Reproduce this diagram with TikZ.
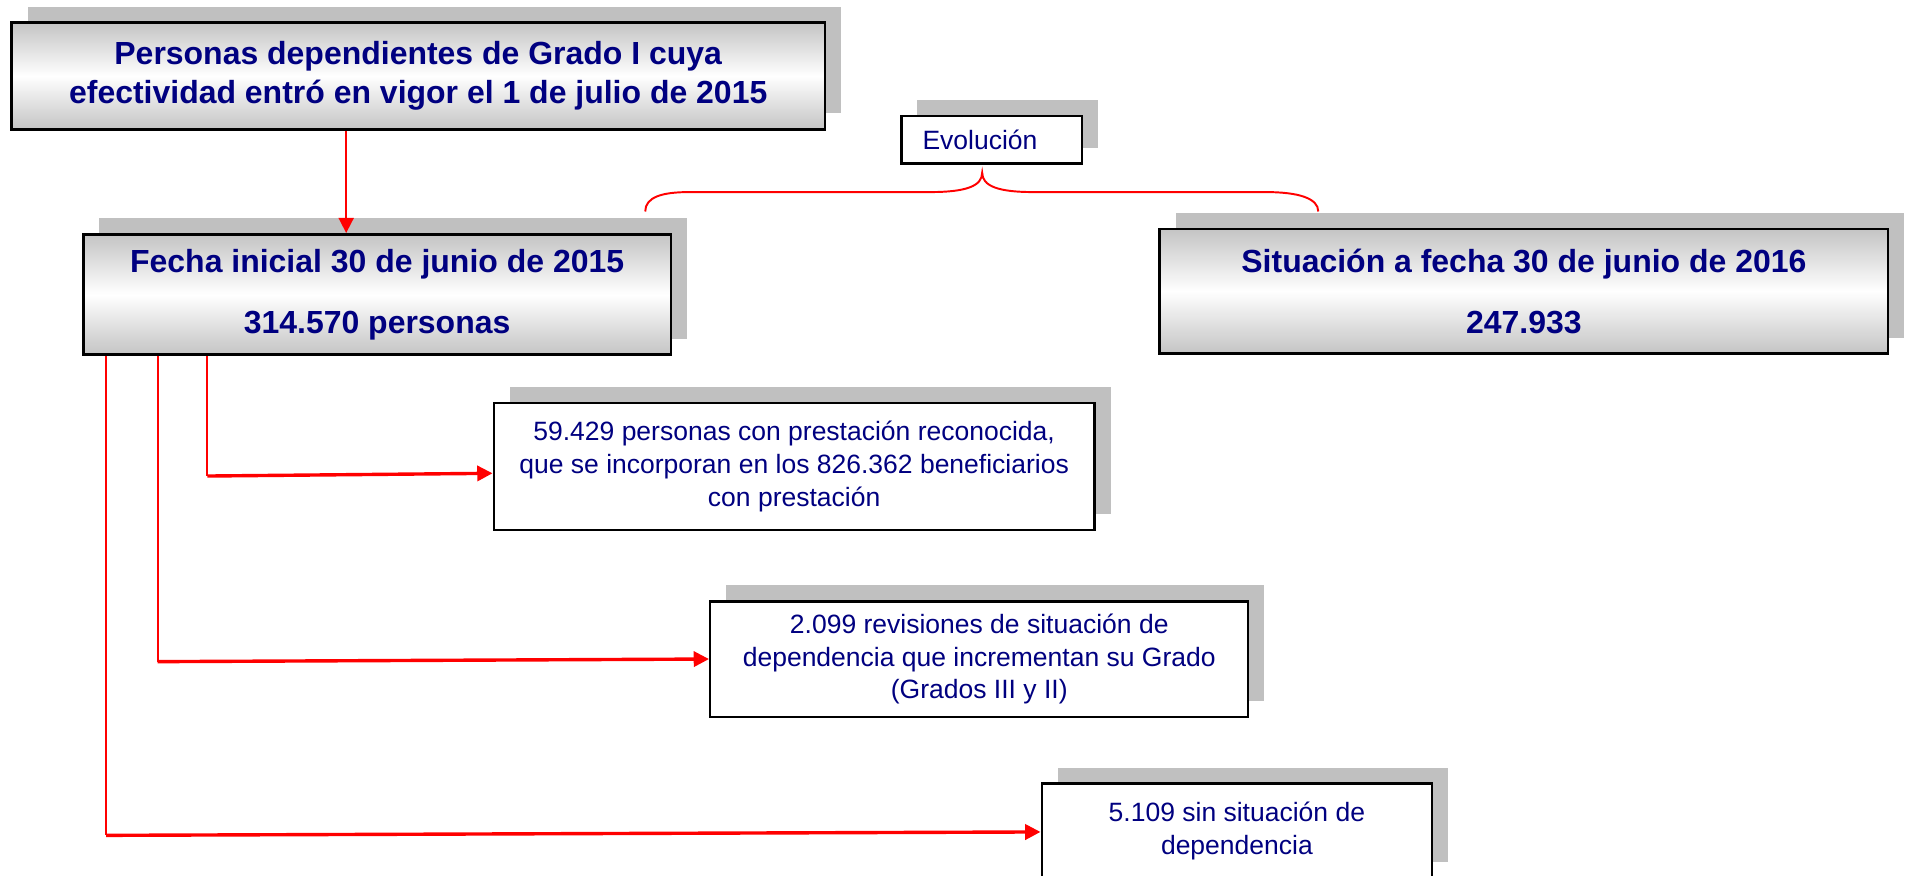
\documentclass[tikz,border=0pt]{standalone}
\usepackage{fontspec}
\setmainfont{Liberation Sans}
\usetikzlibrary{arrows.meta,shadows,calc}
\definecolor{navytxt}{RGB}{0,0,128}
\definecolor{shgray}{RGB}{192,192,192}
\definecolor{gshade}{RGB}{196,196,196}
\definecolor{linered}{RGB}{255,0,0}
\tikzset{
  boxshadow/.style={general shadow={fill=shgray, shadow xshift=6.6pt, shadow yshift=6.6pt}},
  bigbox/.style={draw=black, line width=1.1pt, top color=gshade, bottom color=gshade, middle color=white,
    text=navytxt, font=\bfseries\fontsize{13.15}{15.85}\selectfont, align=center, inner sep=0pt, boxshadow},
  smallbox/.style={draw=black, line width=1pt, fill=white, text=navytxt,
    font=\fontsize{10.9}{13.5}\selectfont, align=center, inner sep=0pt, boxshadow},
  thinred/.style={draw=linered, line width=0.95pt},
  redarrow/.style={draw=linered, line width=1.4pt, -{Triangle[length=6.3pt,width=6.2pt]}},
  toparrow/.style={draw=linered, line width=0.95pt, -{Triangle[length=6.2pt,width=6.1pt]}},
  bracestyle/.style={draw=linered, line width=0.8pt}
}
\begin{document}
\begin{tikzpicture}[x=0.5pt,y=-0.5pt]
\useasboundingbox (0,0) rectangle (1568,720);
% boxes
\node[bigbox, minimum width=334.55pt, minimum height=43.9pt] (top) at (344.05,62.5)
  {Personas dependientes de Grado I cuya\\efectividad entró en vigor el 1 de julio de 2015};
\node[bigbox, minimum width=241.75pt, minimum height=49.5pt] (fecha) at (310.25,242.3)
  {Fecha inicial 30 de junio de 2015\\[9.15pt]314.570 personas};
\node[bigbox, minimum width=299.55pt, minimum height=51.25pt] (sit) at (1253.65,239.6)
  {Situación a fecha 30 de junio de 2016\\[9.15pt]247.933};
\node[smallbox, align=left, text width=57pt, inner xsep=8.7pt, minimum height=19.7pt] (evo) at (815.9,114.9)
  {Evolución};
\node[smallbox, minimum width=247.1pt, minimum height=52.35pt] (b1) at (653.3,383.65)
  {59.429 personas con prestación reconocida,\\que se incorporan en los 826.362 beneficiarios\\con prestación};
\node[smallbox, minimum width=221.3pt, minimum height=47.45pt] (b2) at (805.6,542.15)
  {2.099 revisiones de situación de\\dependencia que incrementan su Grado\\(Grados III y II)};
\node[smallbox, minimum width=160.55pt, minimum height=39pt] (b3) at (1017.55,683.7)
  {5.109 sin situación de\\dependencia};
% top arrow
\coordinate (ax) at (284.8,0);
\draw[toparrow] (top.south -| ax) -- (fecha.north -| ax);
% drop lines and arrows
\coordinate (d1) at (170.5,391.6);
\coordinate (d2) at (129.7,544.3);
\coordinate (d3) at (87.4,687.2);
\draw[thinred] (fecha.south -| d1) -- (d1);
\draw[thinred] (fecha.south -| d2) -- (d2);
\draw[thinred] (fecha.south -| d3) -- (d3);
\draw[redarrow] (d1) -- ($(b1.west)+(0,5.7)$);
\draw[redarrow] (d2) -- (b2.west);
\draw[redarrow] (d3) -- ($(b3.west)+(0,0.7)$);
% brace
\draw[bracestyle] (530.8,174) .. controls (530.8,162) and (545,158) .. (567,158)
  -- (765,158) .. controls (795,158) and (808,153) .. (808,142)
  .. controls (808,153) and (821,158) .. (850,158)
  -- (1041,158) .. controls (1068,158) and (1084.5,163) .. (1084.5,174);
\end{tikzpicture}
\end{document}
